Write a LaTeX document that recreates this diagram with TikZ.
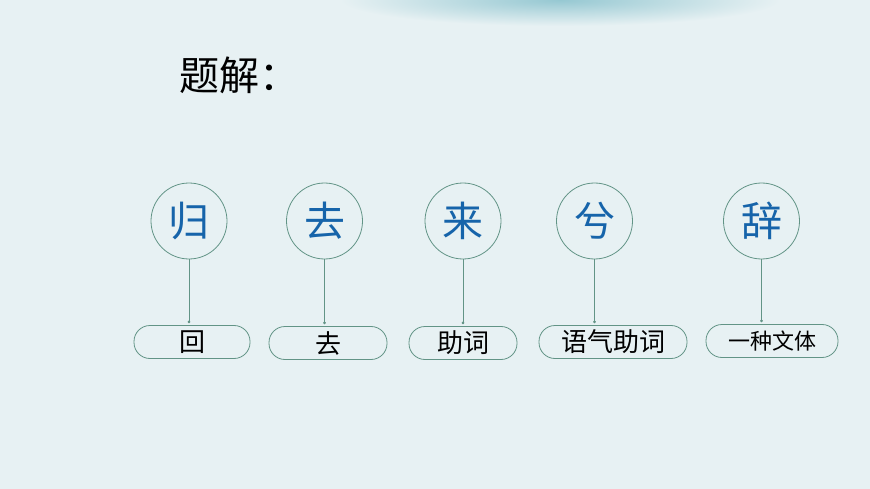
\documentclass[tikz,border=0pt]{standalone}
\usepackage{fontspec}
\usepackage{tikz}
\usetikzlibrary{positioning, arrows.meta}
\newfontfamily\cjk{Noto Sans CJK SC}
\definecolor{paper}{RGB}{231,241,243}
\definecolor{wash}{RGB}{150,200,210}
\definecolor{rim}{RGB}{98,148,134}
\definecolor{inkblue}{RGB}{22,100,170}
\tikzset{char node/.style={circle,draw=rim,line width=0.8pt,minimum size=76pt,inner sep=0pt,
                           text=inkblue,font=\cjk\fontsize{41}{41}\selectfont},
         word node/.style={rounded corners=16pt,draw=rim,line width=0.8pt,minimum height=33pt,
                           inner sep=0pt,font=\cjk\fontsize{26}{26}\selectfont},
         link/.style={draw=rim,line width=0.8pt,-{Circle[length=2.5pt]},shorten >=2pt}}

\begin{document}
\begin{tikzpicture}[x=1pt,y=-1pt]
            % background
            \fill[paper] (0,0) rectangle (870,489);
            \useasboundingbox (0,0) rectangle (870,489);
            \shade[inner color=wash, outer color=paper] (560,0) ellipse (220 and 26);

            \node[font=\cjk\fontsize{40}{40}\selectfont, anchor=west] (T) at (176,75) {题解：};

            \node[char node] (A) at (189,221) {归};
            \node[char node] (B) at (324.5,221) {去};
            \node[char node] (C) at (463,221) {来};
            \node[char node] (D) at (594.5,221) {兮};
            \node[char node] (E) at (761.5,221) {辞};

            \node[word node, minimum width=116pt] (a) at (192,342) {回};
            \node[word node, minimum width=118pt] (b) at (328,343) {去};
            \node[word node, minimum width=108pt] (c) at (463,343) {助词};
            \node[word node, minimum width=148pt] (d) at (613,342) {语气助词};
            \node[word node, minimum width=132pt, font=\cjk\fontsize{22}{22}\selectfont] (e) at (772,341) {一种文体};

            \path[link]
            (A) edge (A |- a.north)
            (B) edge (B |- b.north)
            (C) edge (C |- c.north)
            (D) edge (D |- d.north)
            (E) edge (E |- e.north);
        \end{tikzpicture}
\end{document}
